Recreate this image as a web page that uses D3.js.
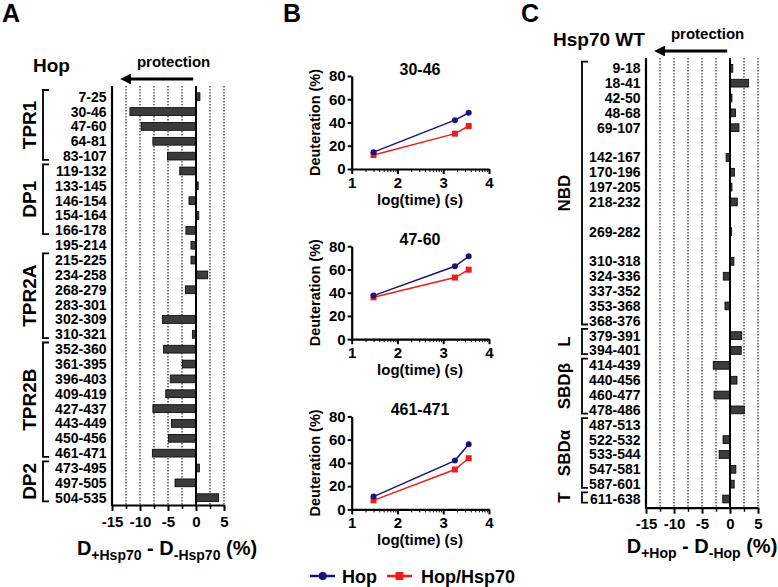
<!DOCTYPE html>
<html>
<head>
<meta charset="utf-8">
<script src="https://cdn.jsdelivr.net/npm/d3@7"></script>
<style>
  body { margin: 0; background: #fff; }
  svg { font-family: "Liberation Sans", Arial, sans-serif; font-weight: bold; }
</style>
</head>
<body>
<svg width="778" height="587"></svg>
<script>
// panel A: Hop peptides, D(+Hsp70) - D(-Hsp70)
const peptidesA = ["7-25","30-46","47-60","64-81","83-107","119-132","133-145","146-154","154-164","166-178",
  "195-214","215-225","234-258","268-279","283-301","302-309","310-321","352-360","361-395","396-403",
  "409-419","427-437","443-449","450-456","461-471","473-495","497-505","504-535"];
const deltaA = [0.7,-11.8,-9.8,-7.7,-5.1,-2.9,0.4,-1.25,0.5,-1.8,
  -0.9,-0.9,2.1,-1.9,0,-6.0,-0.65,-5.8,-2.4,-4.6,
  -5.4,-7.7,-4.4,-4.9,-7.8,0.6,-3.75,4.05];
const groupNamesA = ["TPR1","DP1","TPR2A","TPR2B","DP2"];
const groupSpanA = [["7-25","83-107"],["119-132","166-178"],["215-225","310-321"],["352-360","461-471"],["473-495","504-535"]];

// panel B: deuteration uptake curves
const peptidesB = ["30-46","47-60","461-471"];
const timesB = [30, 1800, 3600]; // seconds
const hopB = [[14.5,42,48.4],[37.5,62.7,71.3],[11,42,56]];
const hopHsp70B = [[12,30.4,37],[36,53,59.8],[7.8,34.3,44]];

// panel C: Hsp70 WT peptides, D(+Hop) - D(-Hop); "" = empty row
const peptidesC = ["9-18","18-41","42-50","48-68","69-107","","142-167","170-196","197-205","218-232",
  "","269-282","","310-318","324-336","337-352","353-368","368-376","379-391","394-401",
  "414-439","440-456","460-477","478-486","487-513","522-532","533-544","547-581","587-601","611-638"];
const deltaC = [0.5,3.3,0.35,1.0,1.6,null,-0.7,0.8,0.35,1.3,
  null,0.3,null,0.7,-1.2,0,-0.9,0,2.1,2.0,
  -3.0,1.25,-2.85,2.55,0,-1.25,-1.95,1.05,0.75,-1.3];
const groupNamesC = ["NBD","L","SBD\u03b2","SBD\u03b1","T"];
const groupSpanC = [["9-18","368-376"],["379-391","394-401"],["414-439","478-486"],["487-513","587-601"],["611-638","611-638"]];

const xTicksMajor = [-15,-10,-5,0,5];
const xTicksMinor = [-12.5,-7.5,-2.5,2.5];

const svg = d3.select("svg");

// panel letters
[["A",2],["B",283],["C",521]].forEach(([t,x]) => {
  svg.append("text").attr("x", x).attr("y", 22).attr("font-size", "25px").text(t);
});

svg.append("defs").append("marker")
  .attr("id", "head").attr("viewBox", "0 0 10 10")
  .attr("refX", 2).attr("refY", 5)
  .attr("markerWidth", 3.6).attr("markerHeight", 3.6)
  .attr("orient", "auto")
  .append("path").attr("d", "M0,0 L10,5 L0,10 Z").attr("fill", "#000");

function barPanel(o) {
  const g = svg.append("g");
  const x = d3.scaleLinear().domain([-15, 5]).range(o.xRange);
  const y = d3.scaleLinear().domain([0, o.labels.length - 1]).range(o.yRange);
  const step = y(1) - y(0);
  const idx = lab => o.labels.indexOf(lab);

  // dotted grid
  g.selectAll(".grid").data(xTicksMajor.concat(xTicksMinor).filter(v => v > -15 && v !== 0))
    .join("line")
      .attr("x1", d => x(d)).attr("x2", d => x(d))
      .attr("y1", o.top).attr("y2", o.axisY)
      .attr("stroke", "#000").attr("stroke-width", 1)
      .attr("stroke-dasharray", "1.5,1.5");

  // bars
  const rows = o.values.map((v, i) => ({ v, i })).filter(d => d.v !== null && d.v !== 0);
  g.selectAll(".bar").data(rows).join("rect")
    .attr("x", d => Math.min(x(0), x(d.v)))
    .attr("width", d => Math.abs(x(d.v) - x(0)))
    .attr("y", d => y(d.i) - 3.9)
    .attr("height", 7.8)
    .attr("fill", "#3b3b3b").attr("stroke", "#000").attr("stroke-width", 0.8);

  // zero line + left axis line
  g.append("line").attr("x1", x(0)).attr("x2", x(0)).attr("y1", o.top).attr("y2", o.axisY)
    .attr("stroke", "#000").attr("stroke-width", 2);
  g.append("line").attr("x1", x(-15)).attr("x2", x(-15)).attr("y1", o.top).attr("y2", o.axisY + 1)
    .attr("stroke", "#000").attr("stroke-width", 2.2);

  // row labels via axis
  const rowAxis = g.append("g").attr("transform", `translate(${x(-15)},0)`)
    .call(d3.axisLeft(y).tickValues(d3.range(o.labels.length)).tickSize(0).tickPadding(5.5)
      .tickFormat(i => o.labels[i]));
  rowAxis.select(".domain").remove();
  rowAxis.selectAll("text").attr("font-size", "14px").attr("font-family", null).attr("font-weight", "bold");

  // bottom axis
  const ax = g.append("g").attr("transform", `translate(0,${o.axisY})`)
    .call(d3.axisBottom(x).tickValues(xTicksMajor).tickSize(6).tickSizeOuter(0).tickPadding(5)
      .tickFormat(d => String(d)));
  ax.select(".domain").attr("stroke-width", 2.2);
  ax.selectAll("line").attr("stroke-width", 2);
  ax.selectAll("text").attr("font-size", "15px").attr("font-family", null).attr("font-weight", "bold");
  const axm = g.append("g").attr("transform", `translate(0,${o.axisY})`)
    .call(d3.axisBottom(x).tickValues(xTicksMinor).tickSize(4).tickFormat(""));
  axm.select(".domain").remove();
  axm.selectAll("line").attr("stroke-width", 1.5);

  // axis title with subscripts
  const t = g.append("text").attr("x", o.titleX).attr("y", o.titleY)
    .attr("text-anchor", "middle").attr("font-size", "20px");
  t.append("tspan").text("D");
  t.append("tspan").attr("font-size", "14px").attr("dy", 5).text(o.sub1);
  t.append("tspan").attr("dy", -5).text(" - D");
  t.append("tspan").attr("font-size", "14px").attr("dy", 5).text(o.sub2);
  t.append("tspan").attr("dy", -5).text(" (%)");

  // brackets + group labels
  o.groups.forEach((name, k) => {
    const y0 = y(idx(o.spans[k][0])) - 0.45 * step;
    const y1 = y(idx(o.spans[k][1])) + 0.25 * step;
    g.append("path")
      .attr("d", `M${o.bracketX + 6},${y0} H${o.bracketX} V${y1} H${o.bracketX + 6}`)
      .attr("fill", "none").attr("stroke", "#000").attr("stroke-width", 1.8);
    g.append("text")
      .attr("transform", `translate(${o.groupX},${(y0 + y1) / 2}) rotate(-90)`)
      .attr("text-anchor", "middle").attr("font-size", o.groupFont).text(name);
  });

  // title + protection arrow
  g.append("text").attr("x", o.nameX).attr("y", o.nameY).attr("font-size", "19px").text(o.name);
  g.append("text").attr("x", x(-4)).attr("y", o.arrowY - 12)
    .attr("text-anchor", "middle").attr("font-size", "15px").text("protection");
  g.append("line").attr("x1", x(-0.5)).attr("x2", x(-12))
    .attr("y1", o.arrowY).attr("y2", o.arrowY)
    .attr("stroke", "#000").attr("stroke-width", 3).attr("marker-end", "url(#head)");
}

barPanel({
  labels: peptidesA, values: deltaA, groups: groupNamesA, spans: groupSpanA,
  xRange: [112, 224], yRange: [96.7, 497.7], top: 86, axisY: 505,
  titleX: 167, titleY: 555, sub1: "+Hsp70", sub2: "-Hsp70",
  bracketX: 43, groupX: 36, groupFont: "19px",
  name: "Hop", nameX: 33, nameY: 72, arrowY: 79
});

barPanel({
  labels: peptidesC, values: deltaC, groups: groupNamesC, spans: groupSpanC,
  xRange: [646, 758], yRange: [68.3, 499], top: 58, axisY: 507.7,
  titleX: 702, titleY: 553, sub1: "+Hop", sub2: "-Hop",
  bracketX: 582, groupX: 570, groupFont: "17px",
  name: "Hsp70 WT", nameX: 553, nameY: 46, arrowY: 51
});

// panel B small multiples
const colHop = "#16167a", colHsp = "#f01c1c";
peptidesB.forEach((pep, k) => {
  const top = 76 + k * 170.2, bottom = top + 93;
  const g = svg.append("g");
  const x = d3.scaleLog().domain([10, 10000]).range([351.7, 489]);
  const y = d3.scaleLinear().domain([0, 80]).range([bottom, top]);

  const ya = g.append("g").attr("transform", "translate(351.7,0)")
    .call(d3.axisLeft(y).tickValues([0,20,40,60,80]).tickSize(4).tickSizeOuter(0).tickPadding(2));
  const xa = g.append("g").attr("transform", `translate(0,${bottom})`)
    .call(d3.axisBottom(x).tickValues(x.ticks()).tickSize(5).tickSizeOuter(0).tickPadding(3)
      .tickFormat(d => Number.isInteger(Math.log10(d)) ? Math.round(Math.log10(d)) : ""));
  xa.selectAll(".tick").filter(d => !Number.isInteger(Math.log10(d)))
    .select("line").attr("y2", 3).attr("stroke-width", 1);
  [ya, xa].forEach(a => {
    a.select(".domain").attr("stroke-width", 2.2);
    a.selectAll(".tick line").attr("stroke-width", function() { return this.getAttribute("stroke-width") || 2; });
    a.selectAll("text").attr("font-size", "15px").attr("font-family", null).attr("font-weight", "bold");
  });

  g.append("text").attr("x", 420).attr("y", top - 1).attr("text-anchor", "middle")
    .attr("font-size", "16px").text(pep);
  g.append("text").attr("x", 420).attr("y", bottom + 36).attr("text-anchor", "middle")
    .attr("font-size", "15px").text("log(time) (s)");
  g.append("text").attr("transform", `translate(320,${(top + bottom) / 2}) rotate(-90)`)
    .attr("text-anchor", "middle").attr("font-size", "14.5px").text("Deuteration (%)");

  const line = d3.line().x((d, i) => x(timesB[i])).y(d => y(d));
  g.append("path").datum(hopHsp70B[k]).attr("d", line)
    .attr("fill", "none").attr("stroke", colHsp).attr("stroke-width", 1.5);
  g.append("path").datum(hopB[k]).attr("d", line)
    .attr("fill", "none").attr("stroke", colHop).attr("stroke-width", 1.5);
  g.selectAll(".sq").data(hopHsp70B[k]).join("rect")
    .attr("x", (d, i) => x(timesB[i]) - 3).attr("y", d => y(d) - 3)
    .attr("width", 6).attr("height", 6).attr("fill", colHsp);
  g.selectAll(".dot").data(hopB[k]).join("circle")
    .attr("cx", (d, i) => x(timesB[i])).attr("cy", d => y(d))
    .attr("r", 3).attr("fill", colHop);
});

// legend
const leg = svg.append("g").attr("transform", "translate(0,576)");
leg.append("line").attr("x1", 310).attr("x2", 335).attr("stroke", colHop).attr("stroke-width", 2.5);
leg.append("circle").attr("cx", 322.7).attr("r", 4).attr("fill", colHop);
leg.append("text").attr("x", 342).attr("y", 6.5).attr("font-size", "18px").text("Hop");
leg.append("line").attr("x1", 387).attr("x2", 412).attr("stroke", colHsp).attr("stroke-width", 2.5);
leg.append("rect").attr("x", 395.5).attr("y", -4).attr("width", 8).attr("height", 8).attr("fill", colHsp);
leg.append("text").attr("x", 421).attr("y", 6.5).attr("font-size", "18px").text("Hop/Hsp70");
</script>
</body>
</html>
